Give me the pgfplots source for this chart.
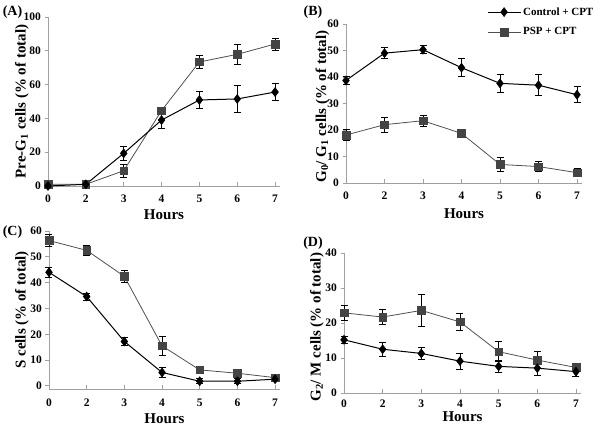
\documentclass[border=0pt]{standalone}
\usepackage{fontspec}
\setmainfont{Liberation Serif}
\usepackage{pgfplots}
\pgfplotsset{compat=1.18}
\definecolor{axisgray}{RGB}{160,160,160}
\definecolor{sqgray}{RGB}{68,68,68}
\definecolor{linegray}{RGB}{80,80,80}
\pgfplotsset{
  panel/.style={
    scale only axis,
    anchor=south west,
    axis lines=left,
    axis line style={-, axisgray, line width=0.8pt},
    xmin=0, xmax=6.13,
    xtick={0,1,2,3,4,5,6},
    xticklabels={0,2,3,4,5,6,7},
    tick style={axisgray, line width=0.8pt},
    major tick length=3.5pt,
    xtick align=inside,
    ytick align=outside,
    tick label style={font=\bfseries\fontsize{11.5}{12}\selectfont, black},
    /pgf/number format/assume math mode=true,
    label style={font=\bfseries\fontsize{15}{16}\selectfont},
    xlabel={Hours},
    clip=false,
  },
  ctrl/.style={black, line width=1pt, mark=diamond*, mark size=4.5pt,
    mark options={solid, black, line width=0.5pt},
    /pgfplots/error bars/y dir=both, /pgfplots/error bars/y explicit,
    /pgfplots/error bars/error bar style={black, line width=0.8pt},
    /pgfplots/error bars/error mark options={rotate=90, black, mark size=3.5pt, line width=0.8pt}},
  psp/.style={linegray, line width=0.8pt, mark=square*, mark size=3.8pt,
    mark options={solid, draw=sqgray, fill=sqgray, line width=0.5pt},
    /pgfplots/error bars/y dir=both, /pgfplots/error bars/y explicit,
    /pgfplots/error bars/error bar style={black, line width=0.8pt},
    /pgfplots/error bars/error mark options={rotate=90, black, mark size=3.5pt, line width=0.8pt}},
}
\begin{document}
\begin{tikzpicture}
\useasboundingbox (0,0) rectangle (600pt,427pt);
\tikzset{panellab/.style={font=\bfseries\fontsize{14}{15}\selectfont, inner sep=0pt}}
\node[panellab] at (12.5pt,415pt) {(A)};
\node[panellab] at (313pt,415pt) {(B)};
\node[panellab] at (12.5pt,195pt) {(C)};
\node[panellab] at (313pt,184pt) {(D)};

% (A)
\begin{axis}[panel, at={(48pt,241pt)}, width=232pt, height=169pt,
  ymin=0, ymax=100, ytick={0,20,40,60,80,100},
  ylabel={Pre-G\textsubscript{1} cells (\% of total)},
  ylabel style={at={(axis description cs:-0.112,0.5)}, anchor=center},
  xlabel style={at={(axis description cs:0.5,-0.17)}, anchor=center},
  xticklabel style={yshift=-5pt}]
\addplot[psp] coordinates {(0,1) +- (0,1) (1,1) +- (0,0.5) (2,9) +- (0,4) (3,44.6) +- (0,2) (4,73.4) +- (0,4) (5,77.9) +- (0,6) (6,84) +- (0,3.5)};
\addplot[ctrl] coordinates {(0,0) +- (0,0.5) (1,1) +- (0,0.5) (2,19.3) +- (0,4.4) (3,39) +- (0,5) (4,50.9) +- (0,5) (5,51.5) +- (0,8) (6,55.6) +- (0,5)};
\end{axis}

% (B)
\begin{axis}[panel, at={(346pt,244pt)}, width=236pt, height=159pt,
  ymin=0, ymax=60, ytick={0,10,20,30,40,50,60},
  ylabel={G\textsubscript{0}/ G\textsubscript{1} cells (\% of total)},
  ylabel style={at={(axis description cs:-0.10,0.48)}, anchor=center},
  xlabel style={at={(axis description cs:0.5,-0.195)}, anchor=center},
  xticklabel style={yshift=-5pt},
  legend style={draw=none, fill=none, at={(axis description cs:1.07,1.13)}, anchor=north east,
    font=\bfseries\fontsize{11}{12}\selectfont, row sep=7pt, cells={anchor=west}},
  legend image code/.code={\draw[mark repeat=2,mark phase=2] plot coordinates {(0cm,0cm) (0.58cm,0cm) (1.16cm,0cm)};}]
\addplot[ctrl] coordinates {(0,38.7) +- (0,1.5) (1,49) +- (0,2) (2,50.3) +- (0,1.5) (3,43.5) +- (0,3.4) (4,37.6) +- (0,3.3) (5,36.9) +- (0,4) (6,33.3) +- (0,3)};
\addlegendentry{Control + CPT}
\addplot[psp] coordinates {(0,18.1) +- (0,2) (1,22) +- (0,2.8) (2,23.5) +- (0,2) (3,18.7) +- (0,1.5) (4,7.0) +- (0,2.5) (5,6.2) +- (0,2) (6,3.9) +- (0,1.5)};
\addlegendentry{PSP + CPT}
\end{axis}

% (C)
\begin{axis}[panel, at={(49pt,38pt)}, width=231pt, height=158pt,
  ymin=-1.2, ymax=60, ytick={0,10,20,30,40,50,60},
  ylabel={S cells (\% of total)},
  ylabel style={at={(axis description cs:-0.117,0.5)}, anchor=center},
  xlabel style={at={(axis description cs:0.5,-0.185)}, anchor=center},
  xticklabel style={yshift=-6pt}]
\addplot[psp] coordinates {(0,56.3) +- (0,2.3) (1,52.5) +- (0,1.8) (2,42.4) +- (0,2.5) (3,15.5) +- (0,3.5) (4,6.2) +- (0,1.5) (5,4.9) +- (0,1) (6,3.2) +- (0,1)};
\addplot[ctrl] coordinates {(0,44) +- (0,1.8) (1,34.6) +- (0,1.3) (2,17.2) +- (0,1.5) (3,5.2) +- (0,1.8) (4,1.8) +- (0,1) (5,1.8) +- (0,1) (6,2.6) +- (0,1)};
\end{axis}

% (D)
\begin{axis}[panel, at={(344pt,34pt)}, width=237pt, height=140pt,
  ymin=0, ymax=40, ytick={0,10,20,30,40},
  ylabel={G\textsubscript{2}/ M cells (\% of total)},
  ylabel style={at={(axis description cs:-0.114,0.47)}, anchor=center},
  xlabel style={at={(axis description cs:0.5,-0.17)}, anchor=center},
  xticklabel style={yshift=-3pt}]
\addplot[psp] coordinates {(0,22.9) +- (0,2.2) (1,21.7) +- (0,2.2) (2,23.6) +- (0,4.6) (3,20.3) +- (0,2.5) (4,11.8) +- (0,2.8) (5,9.4) +- (0,2.4) (6,7.3) +- (0,1)};
\addplot[ctrl] coordinates {(0,15.2) +- (0,1) (1,12.5) +- (0,2) (2,11.3) +- (0,1.7) (3,9.1) +- (0,2.3) (4,7.6) +- (0,1.6) (5,7.1) +- (0,2) (6,6.1) +- (0,1.5)};
\end{axis}
\end{tikzpicture}
\end{document}
